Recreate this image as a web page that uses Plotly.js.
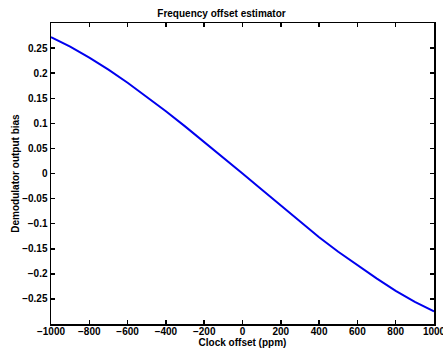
<!DOCTYPE html>
<html>
<head>
<meta charset="utf-8">
<script src="https://cdn.plot.ly/plotly-3.0.1.min.js"></script>
<style>html,body{margin:0;padding:0;background:#fff;}#plot{width:443px;height:352px;}</style>
</head>
<body>
<div id="plot"></div>
<script>
const clockOffset = [-1000,-900,-800,-700,-600,-500,-400,-300,-200,-100,0,100,200,300,400,500,600,700,800,900,1000];
const outputBias = [0.272,0.253,0.231,0.207,0.181,0.153,0.124,0.094,0.063,0.032,0,-0.032,-0.064,-0.096,-0.127,-0.156,-0.183,-0.209,-0.234,-0.256,-0.275];
const xTicks = [-1000,-800,-600,-400,-200,0,200,400,600,800,1000];
const xTickText = ["\u22121000","\u2212800","\u2212600","\u2212400","\u2212200","0","200","400","600","800","1000"];
const yTicks = [-0.25,-0.2,-0.15,-0.1,-0.05,0,0.05,0.1,0.15,0.2,0.25];
const yTickText = ["\u22120.25","\u22120.2","\u22120.15","\u22120.1","\u22120.05","0","0.05","0.1","0.15","0.2","0.25"];

const font = {family: "Liberation Sans, Arial, sans-serif", size: 10, color: "#000"};
const axisCommon = {
  showline: true, linecolor: "#000", linewidth: 1.5, mirror: "ticks",
  ticks: "inside", ticklen: 4, tickwidth: 1.5, tickcolor: "#000",
  showgrid: false, zeroline: false, tickmode: "array",
  ticklabeloverflow: "allow",
  tickfont: {family: font.family, size: 10, color: "#000", weight: "bold"}
};
Plotly.newPlot("plot", [{
  x: clockOffset, y: outputBias, type: "scatter", mode: "lines",
  line: {color: "#0000ee", width: 2}
}], {
  width: 443, height: 352,
  margin: {l: 51, r: 9, t: 23, b: 28},
  paper_bgcolor: "#fff", plot_bgcolor: "#fff",
  font: font,
  showlegend: false,
  title: {text: "<b>Frequency offset estimator</b>", font: {family: font.family, size: 10, color: "#000"}, x: 0.5, xanchor: "center", y: 0.962, yanchor: "middle"},
  xaxis: Object.assign({}, axisCommon, {
    range: [-1000, 1000], tickvals: xTicks, ticktext: xTickText,
    ticklabelstandoff: -3,
    title: {text: "<b>Clock offset (ppm)</b>", font: {family: font.family, size: 10, color: "#000"}, standoff: 0}
  }),
  yaxis: Object.assign({}, axisCommon, {
    range: [-0.3, 0.3], tickvals: yTicks, ticktext: yTickText,
    title: {text: "<b>Demodulator output bias</b>", font: {family: font.family, size: 10, color: "#000"}, standoff: 0}
  })
}, {staticPlot: true, displayModeBar: false});
</script>
</body>
</html>
